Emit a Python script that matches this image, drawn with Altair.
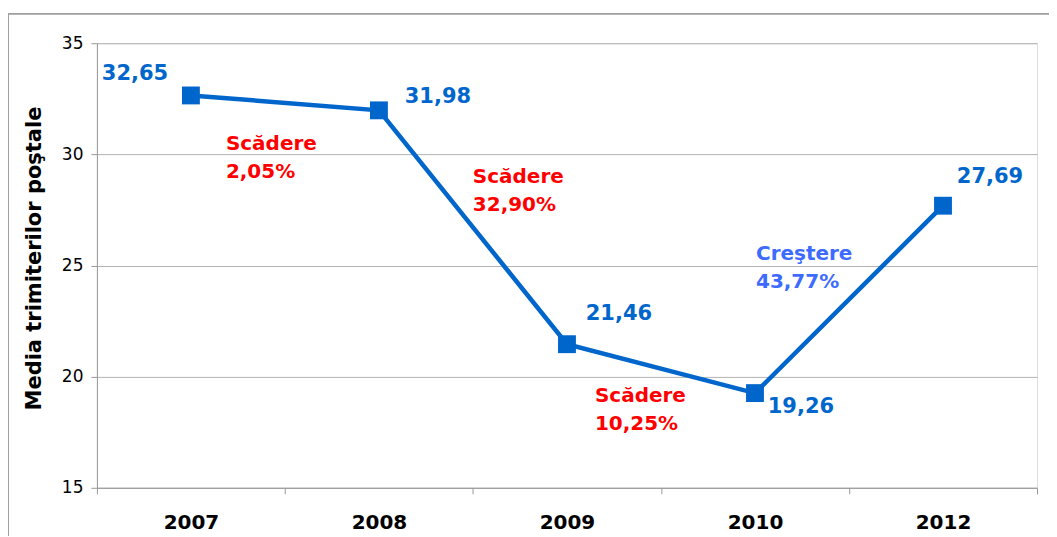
import altair as alt
import pandas as pd

years = ["2007", "2008", "2009", "2010", "2012"]
values = [32.65, 31.98, 21.46, 19.26, 27.69]
value_labels = ["32,65", "31,98", "21,46", "19,26", "27,69"]

ann_from = ["2007", "2008", "2009", "2010"]
ann_texts = ["Scădere\n2,05%", "Scădere\n32,90%", "Scădere\n10,25%", "Creştere\n43,77%"]

y_title = "Media trimiterilor poştale"

df = pd.DataFrame({"year": years, "value": values, "label": value_labels})
ann_df = pd.DataFrame({
    "year": ann_from,
    "value": [values[years.index(y)] for y in ann_from],
    "text": ann_texts,
})

BLUE = "#0066CC"
RED = "#FF0000"
ANN_BLUE = "#3D6BFF"
FONT = "DejaVu Sans"

x_enc = alt.X("year:N", sort=years, title=None,
              scale=alt.Scale(paddingInner=0, paddingOuter=0),
              axis=alt.Axis(tickBand="extent", labelAngle=0, labelFont=FONT,
                            labelFontSize=20, labelFontWeight="bold", labelColor="black",
                            labelPadding=19, tickSize=6, tickColor="#999999",
                            domainColor="#999999", grid=False))
y_enc = alt.Y("value:Q", title=y_title,
              scale=alt.Scale(domain=[15, 35], nice=False, zero=False),
              axis=alt.Axis(values=[15, 20, 25, 30, 35], labelFont=FONT, labelFontSize=17,
                            labelColor="black", labelPadding=8, tickSize=6,
                            tickColor="#999999", domainColor="#999999",
                            gridColor="#B3B3B3", titleFont=FONT, titleFontSize=21,
                            titleFontWeight="bold", titleColor="black", titlePadding=17,
                            titleY=215))

base = alt.Chart(df)

line = base.mark_line(color=BLUE, strokeWidth=4.5).encode(x=x_enc, y=y_enc)
points = base.mark_square(color=BLUE, size=320, opacity=1).encode(x="year:N", y="value:Q")

label_offsets = [(-56, -21), (59, -13), (52, -30), (46, 14), (47, -29)]
label_layers = []
for yr, (dx, dy) in zip(years, label_offsets):
    label_layers.append(
        base.transform_filter(alt.datum.year == yr)
        .mark_text(font=FONT, fontSize=21, fontWeight="bold", color=BLUE,
                   align="center", baseline="middle", dx=dx, dy=dy)
        .encode(x="year:N", y="value:Q", text="label:N")
    )

ann_offsets = [(35, 49), (94, 67), (28, 52), (1, -139)]
ann_colors = [RED, RED, RED, ANN_BLUE]
ann_layers = []
for yr, (dx, dy), col in zip(ann_from, ann_offsets, ann_colors):
    ann_layers.append(
        alt.Chart(ann_df).transform_filter(alt.datum.year == yr)
        .mark_text(font=FONT, fontSize=20, fontWeight="bold", color=col,
                   align="left", baseline="middle", lineBreak="\n", lineHeight=28,
                   dx=dx, dy=dy)
        .encode(x="year:N", y="value:Q", text="text:N")
    )

frame_left = alt.Chart(df).mark_rule(color="#A0A0A0", strokeWidth=1).encode(
    x=alt.value(-88.5), y=alt.value(-29.5), y2=alt.value(520))
frame_top = alt.Chart(df).mark_rule(color="#A0A0A0", strokeWidth=1).encode(
    x=alt.value(-88.5), x2=alt.value(1000), y=alt.value(-29.5))

chart = alt.layer(line, points, *label_layers, *ann_layers, frame_left, frame_top).properties(
    width=941, height=445,
    autosize=alt.AutoSizeParams(type="none"),
    padding={"left": 89, "top": 35, "right": 12, "bottom": 48},
).configure_view(stroke="#A0A0A0", strokeWidth=1.5).configure(background="white")

chart.save("out.html", embed_options={"renderer": "svg", "actions": False})
